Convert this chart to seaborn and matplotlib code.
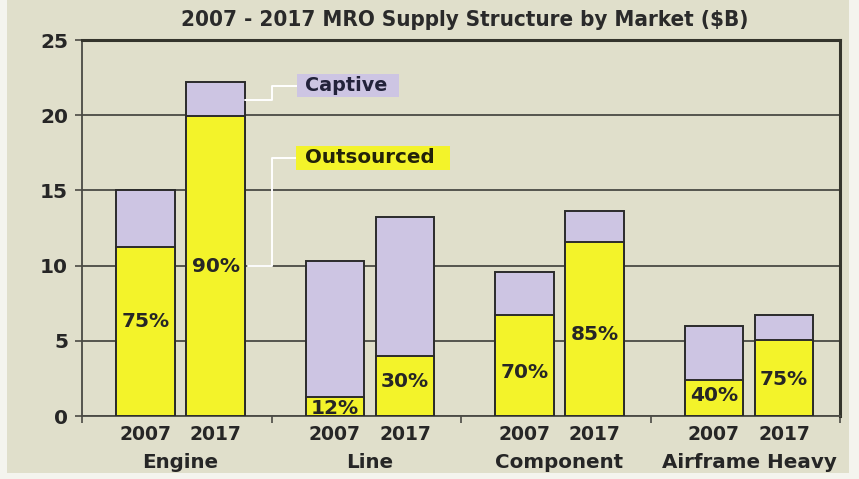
import numpy as np
import pandas as pd
import matplotlib
matplotlib.use("Agg")
import matplotlib.pyplot as plt
from matplotlib.patches import Rectangle
from matplotlib.transforms import blended_transform_factory
import seaborn as sns

# ---- data ($B) ----
markets = ["Engine", "Line", "Component", "Airframe Heavy"]
years = ["2007", "2017"]
total_2007 = [15.0, 10.3, 9.6, 6.0]
total_2017 = [22.2, 13.2, 13.6, 6.7]
outsourced_pct_2007 = [75, 12, 70, 40]
outsourced_pct_2017 = [90, 30, 85, 75]
y_ticks = [0, 5, 10, 15, 20, 25]

title = "2007 - 2017 MRO Supply Structure by Market ($B)"

rows = []
for i, m in enumerate(markets):
    for y, tot, pct in ((years[0], total_2007[i], outsourced_pct_2007[i]),
                        (years[1], total_2017[i], outsourced_pct_2017[i])):
        rows.append({"market": m, "year": y, "total": tot, "pct": pct,
                     "outsourced": tot * pct / 100.0})
df = pd.DataFrame(rows)

# ---- style ----
BG = "#e0dfcb"
CAPTIVE = "#cdc5e3"
OUTSRC = "#f3f32a"
EDGE = "#2b2b2b"
TXT = "#262626"
GRID = "#4a4a44"
EDGE_STRIP = "#f4f4ee"
X0 = -0.52  # left limit; group boundaries sit at X0 + k

sns.set_theme(style="white")
plt.rcParams["font.family"] = ["DejaVu Sans"]

fig = plt.figure(figsize=(8.59, 4.79), dpi=100, facecolor=BG)
# pale margins on the left, bottom and right of the panel
for (x0, y0, w, h) in ((0, 0, 7, 479), (0, 0, 859, 6), (849, 0, 10, 479)):
    fig.patches.append(Rectangle((x0 / 859, y0 / 479), w / 859, h / 479,
                                 transform=fig.transFigure, facecolor=EDGE_STRIP,
                                 edgecolor="none", zorder=-1))
ax = fig.add_axes([82 / 859, 1 - 416 / 479, 758 / 859, 376 / 479])
ax.set_facecolor(BG)

common = dict(data=df, x="market", hue="year", order=markets, hue_order=years,
              width=0.74, gap=0.17, edgecolor=EDGE, linewidth=1.4,
              legend=False, ax=ax, errorbar=None, saturation=1)
sns.barplot(y="total", palette={years[0]: CAPTIVE, years[1]: CAPTIVE}, **common)
sns.barplot(y="outsourced", palette={years[0]: OUTSRC, years[1]: OUTSRC}, **common)
for p in ax.patches:
    p.set_zorder(3)

ax.set_xlim(X0, X0 + 4)
ax.set_ylim(0, 25)
ax.set_yticks(y_ticks)
ax.set_yticklabels([str(v) for v in y_ticks], fontsize=14.5, fontweight="bold", color=TXT)
ax.set_xticks([X0 + k for k in range(5)])
ax.set_xticklabels([])
ax.tick_params(axis="y", length=5, width=1.2, color=GRID, pad=5, left=True)
ax.tick_params(axis="x", length=5, width=1.2, color=GRID, bottom=True, direction="out")
ax.set_xlabel("")
ax.set_ylabel("")
ax.yaxis.grid(True, color=GRID, linewidth=1.3, zorder=1)
ax.set_axisbelow(True)
for side in ("left", "bottom"):
    ax.spines[side].set_color(GRID)
    ax.spines[side].set_linewidth(1.3)
for side in ("top", "right"):
    ax.spines[side].set_color("#34342c")
    ax.spines[side].set_linewidth(2.2)

# ---- labels under and inside bars ----
trans = blended_transform_factory(ax.transData, ax.transAxes)
out_bars = ax.containers[2:]
pct_label_y = {years[0]: [6.3, 0.5, 2.9, 1.35], years[1]: [9.95, 2.3, 5.4, 2.4]}
pct_vals = {years[0]: outsourced_pct_2007, years[1]: outsourced_pct_2017}
for yi, cont in enumerate(out_bars):
    yr = years[yi]
    for i, bar in enumerate(cont.patches):
        cx = bar.get_x() + bar.get_width() / 2
        ax.text(cx, -0.05, yr, transform=trans, ha="center", va="center",
                fontsize=13.5, fontweight="bold", color=TXT, clip_on=False)
        ax.text(cx, pct_label_y[yr][i], f"{pct_vals[yr][i]}%", ha="center", va="center",
                fontsize=14.5, fontweight="bold", color=TXT, zorder=5)
for i, m in enumerate(markets):
    ax.text(i, -0.125, m, transform=trans, ha="center", va="center",
            fontsize=14.3, fontweight="bold", color=TXT, clip_on=False)

# ---- callouts ----
eng_2017 = ax.containers[1].patches[0]
right_edge = eng_2017.get_x() + eng_2017.get_width()
elbow_x = X0 + 1
captive_box = (0.615, 21.21, 0.538, 1.53)
outsrc_box = (0.609, 16.36, 0.813, 1.59)
ax.plot([right_edge, elbow_x, elbow_x, captive_box[0]], [21.0, 21.0, 21.95, 21.95],
        color="white", linewidth=1.4, zorder=4, clip_on=False)
ax.plot([right_edge + 0.02, elbow_x, elbow_x, outsrc_box[0]], [9.95, 9.95, 17.15, 17.15],
        color="white", linewidth=1.4, zorder=4, clip_on=False)
for (bx, by, bw, bh), fc in ((captive_box, CAPTIVE), (outsrc_box, OUTSRC)):
    ax.add_patch(Rectangle((bx, by), bw, bh, facecolor=fc, edgecolor="none", zorder=4))
ax.text(captive_box[0] + 0.043, captive_box[1] + captive_box[3] / 2, "Captive",
        ha="left", va="center", fontsize=13.8, fontweight="bold", color="#22223a", zorder=5)
ax.text(outsrc_box[0] + 0.048, outsrc_box[1] + outsrc_box[3] / 2, "Outsourced",
        ha="left", va="center", fontsize=14.3, fontweight="bold", color="#22220a", zorder=5)

fig.text(465 / 859, 1 - 20 / 479, title, ha="center", va="center", fontsize=16,
         fontweight="bold", fontstretch="condensed", family=["DejaVu Sans"], color="#2a2a2a")

fig.savefig("out.png", dpi=100, facecolor=fig.get_facecolor())
